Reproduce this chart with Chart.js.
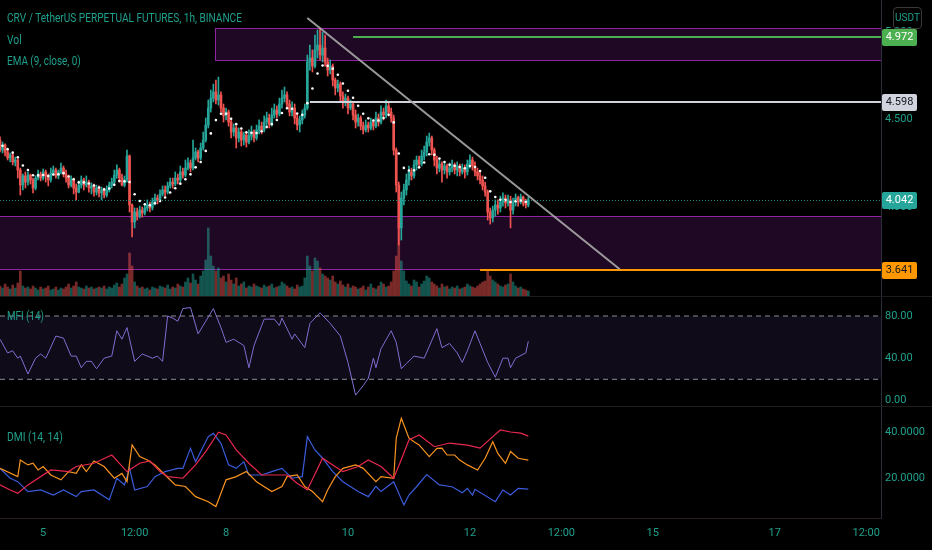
<!DOCTYPE html>
<html>
<head>
<meta charset="utf-8">
<title>CRV / TetherUS PERPETUAL FUTURES, 1h</title>
<script src="https://cdn.jsdelivr.net/npm/chart.js@4.4.1/dist/chart.umd.min.js"></script>
<style>
  html, body { margin: 0; padding: 0; background: #000; }
  #wrap { position: relative; width: 932px; height: 550px; overflow: hidden; background: #000;
          font-family: Roboto, "Noto Sans", sans-serif; }
  canvas { position: absolute; left: 0; }
  .leg { position: absolute; left: 7px; color: #1fa08c; font-size: 13px; line-height: 16px;
         white-space: nowrap; transform-origin: 0 50%; }
  .sep { position: absolute; left: 0; width: 932px; height: 1px; background: #1c1c1c; }
  #usdt { position: absolute; left: 893px; top: 7px; width: 27px; height: 20px; border: 1px solid #3a3a3a;
          border-radius: 4px; color: #1fa08c; font-size: 10px; line-height: 20px; text-align: center; }
</style>
</head>
<body>
<div id="wrap">
  <canvas id="main" width="932" height="296" style="top:0"></canvas>
  <canvas id="mfi" width="932" height="109" style="top:297px"></canvas>
  <canvas id="dmi" width="932" height="143" style="top:407px"></canvas>
  <div class="sep" style="top:296px"></div>
  <div class="sep" style="top:406px"></div>
  <div class="leg" style="top:10px" data-w="235">CRV / TetherUS PERPETUAL FUTURES, 1h, BINANCE</div>
  <div class="leg" style="top:32px" data-w="15">Vol</div>
  <div class="leg" style="top:53px" data-w="74">EMA (9, close, 0)</div>
  <div class="leg" style="top:308px" data-w="37">MFI (14)</div>
  <div class="leg" style="top:429px" data-w="56">DMI (14, 14)</div>
  <div id="usdt">USDT</div>
</div>
<script>
// Velas de 1h: la hora 0 es el día 4 a las 00:00
const firstHour = 7;
const firstOpen = 4.383;

// Cierres (una vela por hora)
const closes = [
  4.326, 4.355, 4.315, 4.281, 4.298, 4.258, 4.269, 4.212, 4.126, 4.178,
  4.143, 4.183, 4.155, 4.109, 4.166, 4.189, 4.166, 4.201, 4.178, 4.155,
  4.195, 4.212, 4.178, 4.201, 4.223, 4.189, 4.166, 4.126, 4.155, 4.109,
  4.086, 4.126, 4.155, 4.126, 4.143, 4.109, 4.121, 4.086, 4.109, 4.081,
  4.098, 4.069, 4.098, 4.126, 4.143, 4.183, 4.212, 4.166, 4.126, 4.155,
  4.292, 4.012, 3.915, 3.972, 3.949, 3.983, 3.966, 3.995, 4.012, 3.995,
  4.029, 4.052, 4.041, 4.075, 4.098, 4.086, 4.121, 4.143, 4.132, 4.166,
  4.155, 4.201, 4.183, 4.223, 4.252, 4.223, 4.281, 4.315, 4.281, 4.338,
  4.383, 4.469, 4.566, 4.623, 4.658, 4.612, 4.641, 4.566, 4.521, 4.543,
  4.486, 4.429, 4.452, 4.395, 4.429, 4.383, 4.412, 4.372, 4.406, 4.429,
  4.395, 4.441, 4.463, 4.441, 4.486, 4.509, 4.475, 4.526, 4.555, 4.532,
  4.589, 4.623, 4.641, 4.589, 4.543, 4.566, 4.509, 4.469, 4.498, 4.526,
  4.566, 4.829, 4.852, 4.806, 4.898, 4.926, 4.869, 4.909, 4.829, 4.783,
  4.806, 4.726, 4.681, 4.703, 4.635, 4.601, 4.623, 4.566, 4.589, 4.526,
  4.486, 4.509, 4.463, 4.441, 4.469, 4.452, 4.486, 4.463, 4.509, 4.486,
  4.543, 4.526, 4.578, 4.543, 4.509, 4.326, 4.126, 3.881, 4.052, 4.098,
  4.155, 4.201, 4.178, 4.241, 4.269, 4.246, 4.292, 4.315, 4.372, 4.395,
  4.326, 4.269, 4.223, 4.246, 4.212, 4.235, 4.201, 4.223, 4.241, 4.212,
  4.235, 4.201, 4.223, 4.201, 4.246, 4.269, 4.235, 4.201, 4.178, 4.155,
  4.121, 4.086, 3.972, 3.938, 3.983, 4.012, 3.995, 4.029, 4.052, 4.023,
  4.041, 3.983, 4.029, 4.052, 4.029, 4.058, 4.023, 4.012, 4.042
];
const highs = [
  4.401, 4.372, 4.361, 4.326, 4.309, 4.303, 4.286, 4.281, 4.223, 4.189,
  4.201, 4.201, 4.189, 4.166, 4.178, 4.212, 4.201, 4.218, 4.212, 4.189,
  4.223, 4.235, 4.223, 4.212, 4.252, 4.235, 4.212, 4.183, 4.178, 4.166,
  4.132, 4.149, 4.178, 4.166, 4.178, 4.155, 4.138, 4.132, 4.126, 4.121,
  4.115, 4.109, 4.121, 4.143, 4.166, 4.212, 4.241, 4.223, 4.189, 4.178,
  4.326, 4.298, 4.018, 3.995, 3.995, 4.006, 4.000, 4.018, 4.041, 4.029,
  4.052, 4.075, 4.069, 4.098, 4.121, 4.121, 4.143, 4.166, 4.166, 4.201,
  4.189, 4.235, 4.223, 4.269, 4.281, 4.269, 4.383, 4.338, 4.326, 4.366,
  4.429, 4.509, 4.612, 4.669, 4.703, 4.726, 4.743, 4.658, 4.589, 4.566,
  4.555, 4.509, 4.475, 4.463, 4.452, 4.441, 4.429, 4.423, 4.441, 4.463,
  4.441, 4.469, 4.498, 4.486, 4.521, 4.543, 4.532, 4.566, 4.589, 4.578,
  4.623, 4.669, 4.686, 4.658, 4.612, 4.601, 4.589, 4.532, 4.521, 4.555,
  4.589, 4.869, 4.926, 4.898, 4.983, 5.012, 5.023, 5.000, 4.983, 4.852,
  4.841, 4.818, 4.738, 4.726, 4.715, 4.658, 4.646, 4.635, 4.612, 4.601,
  4.555, 4.532, 4.521, 4.486, 4.498, 4.486, 4.509, 4.498, 4.543, 4.532,
  4.578, 4.566, 4.612, 4.601, 4.566, 4.526, 4.338, 4.143, 4.086, 4.132,
  4.189, 4.235, 4.223, 4.269, 4.292, 4.292, 4.326, 4.349, 4.406, 4.423,
  4.406, 4.338, 4.292, 4.269, 4.258, 4.258, 4.246, 4.252, 4.269, 4.252,
  4.258, 4.246, 4.246, 4.241, 4.269, 4.298, 4.286, 4.258, 4.223, 4.201,
  4.178, 4.143, 4.098, 3.995, 4.006, 4.041, 4.041, 4.063, 4.081, 4.069,
  4.069, 4.063, 4.052, 4.075, 4.063, 4.075, 4.063, 4.046, 4.058
];
const lows = [
  4.315, 4.309, 4.292, 4.269, 4.258, 4.241, 4.235, 4.166, 4.069, 4.098,
  4.109, 4.126, 4.132, 4.081, 4.098, 4.155, 4.149, 4.155, 4.143, 4.121,
  4.143, 4.183, 4.166, 4.161, 4.189, 4.172, 4.143, 4.109, 4.115, 4.075,
  4.041, 4.081, 4.109, 4.098, 4.115, 4.086, 4.075, 4.063, 4.069, 4.058,
  4.041, 4.052, 4.058, 4.086, 4.109, 4.132, 4.166, 4.143, 4.121, 4.115,
  4.143, 3.972, 3.829, 3.881, 3.926, 3.938, 3.943, 3.955, 3.978, 3.972,
  3.983, 4.012, 4.018, 4.029, 4.063, 4.063, 4.075, 4.109, 4.109, 4.121,
  4.132, 4.143, 4.166, 4.172, 4.212, 4.201, 4.212, 4.269, 4.258, 4.269,
  4.326, 4.372, 4.452, 4.543, 4.601, 4.589, 4.583, 4.543, 4.486, 4.498,
  4.463, 4.395, 4.406, 4.338, 4.372, 4.349, 4.355, 4.343, 4.361, 4.383,
  4.372, 4.383, 4.418, 4.418, 4.429, 4.463, 4.452, 4.463, 4.509, 4.509,
  4.521, 4.566, 4.601, 4.566, 4.521, 4.521, 4.475, 4.441, 4.429, 4.475,
  4.509, 4.555, 4.783, 4.772, 4.795, 4.852, 4.841, 4.829, 4.806, 4.749,
  4.761, 4.692, 4.641, 4.658, 4.601, 4.566, 4.578, 4.532, 4.555, 4.498,
  4.452, 4.463, 4.441, 4.418, 4.429, 4.429, 4.441, 4.441, 4.452, 4.463,
  4.475, 4.498, 4.509, 4.521, 4.486, 4.298, 4.086, 3.783, 3.812, 4.012,
  4.069, 4.126, 4.155, 4.166, 4.212, 4.223, 4.235, 4.269, 4.292, 4.349,
  4.298, 4.235, 4.189, 4.201, 4.143, 4.189, 4.166, 4.183, 4.201, 4.189,
  4.178, 4.178, 4.189, 4.166, 4.183, 4.223, 4.212, 4.178, 4.155, 4.132,
  4.098, 4.063, 3.926, 3.903, 3.915, 3.949, 3.960, 3.972, 4.006, 3.995,
  4.006, 3.881, 3.960, 4.006, 4.006, 4.018, 4.006, 3.995, 4.001
];
// Volumen en miles de CRV
const volumes = [
  100, 80, 120, 90, 70, 110, 80, 130, 250, 100,
  80, 90, 70, 100, 80, 60, 90, 70, 80, 100,
  60, 70, 90, 60, 80, 70, 90, 120, 80, 100,
  140, 90, 80, 70, 100, 80, 90, 70, 80, 90,
  80, 100, 70, 90, 80, 110, 130, 90, 120, 180,
  220, 430, 300, 140, 100, 80, 90, 70, 80, 60,
  90, 80, 70, 100, 90, 80, 110, 70, 90, 80,
  120, 100, 90, 140, 180, 130, 220, 160, 120, 200,
  250, 360, 680, 400, 300, 250, 280, 180, 200, 140,
  220, 160, 120, 180, 100, 120, 140, 80, 100, 90,
  120, 100, 90, 80, 110, 90, 100, 120, 80, 90,
  100, 140, 120, 100, 80, 90, 70, 110, 90, 100,
  180, 400, 300, 250, 380, 350, 280, 220, 200, 180,
  160, 200, 140, 120, 150, 110, 90, 120, 80, 100,
  90, 70, 80, 100, 60, 90, 120, 80, 70, 100,
  140, 120, 90, 100, 140, 250, 400, 680, 350, 250,
  150, 120, 100, 160, 140, 90, 120, 150, 200, 180,
  140, 120, 100, 80, 120, 90, 100, 70, 90, 80,
  100, 70, 80, 90, 120, 100, 90, 80, 100, 120,
  140, 150, 260, 200, 160, 140, 120, 100, 90, 110,
  120, 220, 140, 100, 80, 90, 70, 60, 50
];

// EMA (9, close) cada dos horas, empezando en la hora 8
const emaStartHour = 8;
const emaStepHours = 2;
const emaValues = [
  4.350, 4.331, 4.311, 4.285, 4.238, 4.212, 4.182, 4.181, 4.183, 4.177,
  4.186, 4.188, 4.194, 4.175, 4.159, 4.141, 4.141, 4.135, 4.123, 4.112,
  4.101, 4.106, 4.127, 4.149, 4.147, 4.143, 4.073, 4.035, 4.016, 4.011,
  4.022, 4.035, 4.055, 4.083, 4.108, 4.134, 4.159, 4.187, 4.227, 4.258,
  4.321, 4.421, 4.497, 4.533, 4.533, 4.505, 4.474, 4.449, 4.427, 4.425,
  4.423, 4.433, 4.457, 4.474, 4.498, 4.538, 4.565, 4.562, 4.535, 4.527,
  4.594, 4.678, 4.763, 4.809, 4.807, 4.791, 4.756, 4.706, 4.665, 4.625,
  4.579, 4.533, 4.507, 4.495, 4.495, 4.509, 4.527, 4.484, 4.306, 4.224,
  4.209, 4.210, 4.227, 4.255, 4.302, 4.299, 4.277, 4.258, 4.242, 4.236,
  4.229, 4.222, 4.235, 4.229, 4.206, 4.168, 4.090, 4.058, 4.042, 4.040,
  4.029, 4.033, 4.038, 4.030
];

// MFI (14)
const mfiHours = [7, 10, 12, 14, 15, 18, 21, 23, 25, 26, 29, 32, 35, 37, 39, 41, 43, 45, 48, 51,
  53, 55, 57, 60, 63, 67, 69, 71, 73, 75, 77, 79, 82, 85, 88, 91, 94, 96, 99, 103,
  105, 107, 111, 115, 117, 118, 122, 123, 127, 129, 133, 137, 141, 144, 147, 150, 152, 154, 155, 157,
  161, 163, 165, 167, 170, 174, 179, 181, 184, 187, 189, 191, 194, 196, 199, 202, 205, 207, 208, 210,
  214, 215];
const mfiValues = [58, 45, 47, 40, 42, 25, 40, 44, 40, 45, 61, 59, 42, 42, 31, 37, 37, 30, 40, 42,
  66, 58, 69, 37, 44, 40, 42, 37, 80, 78, 75, 87, 88, 63, 75, 87, 69, 55, 58, 52,
  31, 52, 77, 77, 71, 78, 58, 63, 50, 73, 83, 73, 61, 36, 5, 14, 21, 40, 31, 49,
  66, 55, 30, 35, 42, 40, 68, 50, 54, 45, 36, 47, 66, 54, 36, 22, 40, 40, 31, 40,
  45, 56];
const mfiBands = [80, 20];

// DMI (14, 14): +DI, -DI y ADX
const plusHours = [7, 11, 14, 18, 23, 28, 32, 37, 39, 44, 50, 53, 56, 58, 60, 65, 68, 72, 77, 79,
  82, 84, 89, 91, 94, 97, 100, 103, 105, 110, 114, 118, 122, 126, 128, 131, 134, 138, 142, 148,
  152, 155, 157, 162, 166, 168, 171, 175, 180, 185, 189, 191, 193, 194, 202, 205, 208, 211, 215];
const plusDI = [24.2, 19.9, 18.4, 14.1, 14.8, 12.6, 14.8, 11.9, 14.1, 14.8, 10.5, 19.9, 17, 24.2, 14.8, 16.3, 20.6, 22.8, 24.2, 24.2,
  32.9, 27.1, 38, 39.4, 35.1, 25.7, 24.2, 27.1, 21.3, 21.3, 22.8, 24.2, 19.9, 20.6, 38, 32.2, 28.6, 22.8, 18.4, 14.1,
  11.9, 16.3, 14.1, 18.4, 8.3, 12.6, 16.2, 21.5, 17, 16.2, 13.6, 15.5, 12.6, 15.1, 9.7, 14.8, 12.6, 15.5, 15.2];
const minusHours = [7, 14, 15, 18, 20, 22, 24, 27, 31, 34, 37, 39, 41, 44, 48, 52, 55, 57, 59, 62,
  65, 68, 72, 76, 80, 84, 89, 92, 96, 100, 104, 108, 114, 118, 120, 124, 127, 130, 134, 136,
  139, 142, 147, 150, 155, 157, 162, 163, 165, 168, 170, 172, 176, 179, 181, 183, 186, 188, 191, 195,
  198, 201, 203, 206, 208, 211, 215];
const minusDI = [24.2, 20.6, 27.8, 25.7, 26.4, 23.5, 25, 21.3, 19.2, 22.8, 22, 25.7, 22.8, 27.4, 25, 19.9, 22, 18.4, 34.4, 29.3,
  27.8, 25.7, 21.3, 17, 16.3, 11.9, 9.7, 7.6, 19.2, 20.6, 22.8, 18.4, 14.1, 16.3, 20.6, 21.3, 16.3, 14.1, 9.7, 14.8,
  20.6, 24.2, 25.7, 24.2, 18.4, 20.6, 19.9, 37.3, 46, 37.3, 35.8, 34.4, 29.3, 32.9, 33, 30, 30, 27.8, 25.7, 23.5,
  28.6, 35.8, 30.7, 26.4, 31.5, 28.6, 27.8];
const adxHours = [7, 11, 14, 18, 27, 34, 37, 44, 51, 57, 62, 66, 70, 73, 79, 84, 88, 93, 96, 100,
  105, 110, 114, 120, 124, 128, 134, 138, 142, 148, 152, 157, 162, 165, 168, 172, 178, 184, 191, 196,
  201, 204, 208, 212, 215];
const adxValues = [17, 14.8, 13.4, 17, 23.5, 22.8, 25, 26.4, 30, 22.8, 26.4, 27.4, 22.8, 20.6, 19.9, 25.7, 31.5, 39.9, 38.7, 32.2,
  26.4, 21.3, 21.3, 21.3, 17.7, 14.8, 28.6, 25.7, 22.8, 25, 27.8, 25, 19.9, 28, 36.5, 38.7, 33.6, 35.2, 34.3, 33,
  38, 40.9, 40, 39.5, 38.2];

// Zonas, niveles horizontales y línea de tendencia dibujados sobre el precio
const zoneStart = [91.6, 0];
const zoneTop = [5.023, 3.949];
const zoneBottom = [4.841, 3.647];
const levelPrices = [4.972, 4.598, 3.641];
const levelStart = [146, 129, 196];
const trendHours = [128, 251];
const trendPrices = [5.080, 3.645];
const lastPrice = 4.042;

// Ejes
const priceTicks = [4.0, 4.5, 5.0];
const mfiTicks = [0, 40, 80];
const dmiTicks = [20, 40];
const timeTicks = [24, 60, 96, 144, 192, 228, 264, 312, 348];
const timeLabels = ['5', '12:00', '8', '10', '12', '12:00', '15', '17', '12:00'];

// Colores
const upColor = '#26a69a';
const downColor = '#ef5350';
const textColor = '#1fa08c';
const axisLine = '#2a2e39';
const levelColors = ['#4caf50', '#d1d4dc', '#ff9800'];
const levelTextColors = ['#ffffff', '#131722', '#131722'];

Chart.defaults.font.family = 'Roboto, "Noto Sans", sans-serif';
Chart.defaults.animation = false;

// Preparar las velas
const hours = closes.map((c, i) => firstHour + i);
const opens = closes.map((c, i) => i === 0 ? firstOpen : closes[i - 1]);
const candleColors = closes.map((c, i) => c >= opens[i] ? upColor : downColor);
const volColors = closes.map((c, i) => c >= opens[i] ? 'rgba(38,166,154,0.5)' : 'rgba(239,83,80,0.5)');
const emaHours = emaValues.map((v, i) => emaStartHour + i * emaStepHours);

const xMin = 7;
const xMax = 353.85;

const xHidden = { type: 'linear', min: xMin, max: xMax, display: false, offset: false, grid: { display: false } };

// Opciones comunes: sin relleno automático para que el área llegue al borde
const baseOptions = {
  responsive: false,
  layout: { padding: 0, autoPadding: false },
  plugins: { legend: { display: false }, tooltip: { enabled: false } },
  elements: { point: { hoverRadius: 0 } }
};

// Eje Y a la derecha con ancho fijo
function rightAxis(min, max, ticks, digits) {
  return {
    position: 'right', min: min, max: max,
    grid: { display: false, drawTicks: false },
    border: { display: true, color: axisLine },
    ticks: { color: textColor, font: { size: 11 }, padding: 4, callback: v => Number(v).toFixed(digits) },
    afterBuildTicks: s => { s.ticks = ticks.map(v => ({ value: v })); },
    afterFit: s => { s.width = 51; s.paddingTop = 0; s.paddingBottom = 0; }
  };
}

// Plugin para las zonas, las líneas y las etiquetas de precio
const levelsPlugin = {
  id: 'levels',
  beforeDatasetsDraw(chart) {
    const { ctx, chartArea: a, scales: { x, y } } = chart;
    ctx.save();
    ctx.beginPath();
    ctx.rect(a.left, a.top, a.right - a.left, a.bottom - a.top);
    ctx.clip();
    zoneStart.forEach((h, i) => {
      const x0 = Math.max(Math.round(x.getPixelForValue(h)), a.left - 2);
      const y0 = Math.round(y.getPixelForValue(zoneTop[i]));
      const y1 = Math.round(y.getPixelForValue(zoneBottom[i]));
      ctx.fillStyle = 'rgba(156,39,176,0.2)';
      ctx.fillRect(x0, y0, a.right - x0, y1 - y0);
      ctx.strokeStyle = 'rgba(156,39,176,0.9)';
      ctx.lineWidth = 1;
      ctx.strokeRect(x0 + 0.5, y0 + 0.5, a.right - x0 + 4, y1 - y0);
    });
    ctx.restore();
  },
  afterDatasetsDraw(chart) {
    const { ctx, chartArea: a, scales: { x, y } } = chart;
    ctx.save();
    ctx.beginPath();
    ctx.rect(a.left, a.top, a.right - a.left, a.bottom - a.top);
    ctx.clip();
    // línea punteada del último precio
    let yp = Math.round(y.getPixelForValue(lastPrice)) + 0.5;
    ctx.setLineDash([1, 2]);
    ctx.strokeStyle = 'rgba(38,166,154,0.85)';
    ctx.lineWidth = 1;
    ctx.beginPath(); ctx.moveTo(a.left, yp); ctx.lineTo(a.right, yp); ctx.stroke();
    ctx.setLineDash([]);
    // niveles horizontales
    levelPrices.forEach((p, i) => {
      const yl = Math.round(y.getPixelForValue(p));
      ctx.strokeStyle = levelColors[i];
      ctx.lineWidth = 2;
      ctx.beginPath(); ctx.moveTo(x.getPixelForValue(levelStart[i]), yl); ctx.lineTo(a.right, yl); ctx.stroke();
    });
    // línea de tendencia
    ctx.strokeStyle = 'rgba(170,170,170,0.9)';
    ctx.lineWidth = 2;
    ctx.beginPath();
    ctx.moveTo(x.getPixelForValue(trendHours[0]), y.getPixelForValue(trendPrices[0]));
    ctx.lineTo(x.getPixelForValue(trendHours[1]), y.getPixelForValue(trendPrices[1]));
    ctx.stroke();
    ctx.restore();
  },
  afterDraw(chart) {
    const { ctx, chartArea: a, scales: { y } } = chart;
    const boxes = levelPrices.map((p, i) => ({ p: p, bg: levelColors[i], fg: levelTextColors[i] }));
    boxes.push({ p: lastPrice, bg: upColor, fg: '#ffffff' });
    ctx.save();
    ctx.font = '11px Roboto, "Noto Sans", sans-serif';
    ctx.textAlign = 'center';
    ctx.textBaseline = 'middle';
    boxes.forEach(b => {
      const yc = Math.round(y.getPixelForValue(b.p));
      ctx.fillStyle = b.bg;
      ctx.beginPath();
      ctx.roundRect(a.right + 1, yc - 8, 35, 17, 2);
      ctx.fill();
      ctx.fillStyle = b.fg;
      ctx.fillText(b.p.toFixed(3), a.right + 18.5, yc + 0.5);
    });
    ctx.restore();
  }
};

// Panel principal: velas, volumen y EMA
new Chart(document.getElementById('main'), {
  type: 'bar',
  data: {
    datasets: [
      {
        type: 'bar', label: 'Mechas',
        data: hours.map((h, i) => ({ x: h, y: [lows[i], highs[i]] })),
        backgroundColor: candleColors, barThickness: 1, grouped: false, order: 2
      },
      {
        type: 'bar', label: 'Cuerpos',
        data: hours.map((h, i) => ({ x: h, y: [opens[i], closes[i]] })),
        backgroundColor: candleColors, barThickness: 2, minBarLength: 1, grouped: false, order: 1
      },
      {
        type: 'bar', label: 'Vol', yAxisID: 'yv',
        data: hours.map((h, i) => ({ x: h, y: volumes[i] })),
        backgroundColor: volColors, barThickness: 2, grouped: false, order: 5
      },
      {
        type: 'line', label: 'EMA (9, close, 0)',
        data: emaHours.map((h, i) => ({ x: h, y: emaValues[i] })),
        showLine: false, pointRadius: 1.3, pointBorderWidth: 0,
        pointBackgroundColor: '#ffffff', order: 0
      }
    ]
  },
  options: Object.assign({}, baseOptions, {
    scales: {
      x: xHidden,
      y: rightAxis(3.492, 5.1834, priceTicks, 3),
      yv: { display: false, min: 0, max: 2960 }
    }
  }),
  plugins: [levelsPlugin]
});

// Panel MFI
new Chart(document.getElementById('mfi'), {
  type: 'line',
  data: {
    datasets: [
      {
        label: 'Banda alta',
        data: [{ x: xMin, y: mfiBands[0] }, { x: xMax, y: mfiBands[0] }],
        borderColor: '#8a8d96', borderWidth: 1, borderDash: [5, 4], pointRadius: 0, fill: false
      },
      {
        label: 'Banda baja',
        data: [{ x: xMin, y: mfiBands[1] }, { x: xMax, y: mfiBands[1] }],
        borderColor: '#8a8d96', borderWidth: 1, borderDash: [5, 4], pointRadius: 0,
        fill: '-1', backgroundColor: 'rgba(126,87,194,0.13)'
      },
      {
        label: 'MFI (14)',
        data: mfiHours.map((h, i) => ({ x: h, y: mfiValues[i] })),
        borderColor: '#8470d4', borderWidth: 1, pointRadius: 0, tension: 0, fill: false
      }
    ]
  },
  options: Object.assign({}, baseOptions, {
    scales: {
      x: xHidden,
      y: rightAxis(-5.3, 98.0, mfiTicks, 2)
    }
  })
});

// Panel DMI con el eje de tiempo
new Chart(document.getElementById('dmi'), {
  type: 'line',
  data: {
    datasets: [
      {
        label: 'ADX',
        data: adxHours.map((h, i) => ({ x: h, y: adxValues[i] })),
        borderColor: '#e8284f', borderWidth: 1.2, pointRadius: 0, tension: 0
      },
      {
        label: '-DI',
        data: minusHours.map((h, i) => ({ x: h, y: minusDI[i] })),
        borderColor: '#f7931e', borderWidth: 1.2, pointRadius: 0, tension: 0
      },
      {
        label: '+DI',
        data: plusHours.map((h, i) => ({ x: h, y: plusDI[i] })),
        borderColor: '#3b5bdb', borderWidth: 1.2, pointRadius: 0, tension: 0
      }
    ]
  },
  options: Object.assign({}, baseOptions, {
    scales: {
      x: {
        type: 'linear', min: xMin, max: xMax, offset: false, position: 'bottom',
        grid: { display: false, drawTicks: false },
        border: { display: true, color: '#241c1c' },
        ticks: {
          color: textColor, font: { size: 11 }, padding: 9, autoSkip: false, maxRotation: 0,
          callback: (v, i) => timeLabels[i]
        },
        afterBuildTicks: s => { s.ticks = timeTicks.map(v => ({ value: v })); },
        afterFit: s => { s.height = 32; s.paddingLeft = 0; s.paddingRight = 0; }
      },
      y: rightAxis(2.61, 50.87, dmiTicks, 4)
    }
  })
});

// Ajustar el ancho de las leyendas al de la imagen
function fitLegends() {
  document.querySelectorAll('.leg').forEach(el => {
    el.style.transform = 'none';
    const w = Number(el.dataset.w);
    el.style.transform = 'scaleX(' + (w / el.scrollWidth) + ')';
  });
}
fitLegends();
if (document.fonts) document.fonts.ready.then(fitLegends);
</script>
</body>
</html>
